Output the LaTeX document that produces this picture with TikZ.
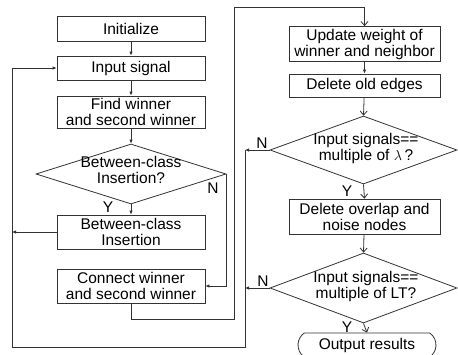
\documentclass[tikz,border=0pt]{standalone}
\usepackage{fontspec}
\setmainfont{Liberation Sans}
\usetikzlibrary{shapes.geometric,shapes.misc,arrows.meta}

\tikzset{
  x=1pt, y=-1pt,
  line/.style={draw=black!80, line width=0.8pt},
  box/.style={line, rectangle, inner sep=0pt, align=center,
              font=\fontsize{15.5}{16}\selectfont},
  dia/.style={line, diamond, inner sep=0pt},
  dtext/.style={align=center, inner sep=0pt, font=\fontsize{15.5}{16}\selectfont},
  tag/.style={inner sep=0pt, font=\fontsize{15.5}{16}\selectfont},
  fa/.style={line, -{Latex[length=4pt,width=3.5pt]}},
  oa/.style={line, -{Straight Barb[length=4pt,width=7pt]}},
}

\begin{document}
\begin{tikzpicture}
\clip (0,0) rectangle (458,354);
\fill[white] (0,0) rectangle (458,354);

% left column
\node[box, minimum width=148, minimum height=25] (init)  at (131,28.5) {Initialize};
\node[box, minimum width=148, minimum height=24] (input) at (131,68) {Input signal};
\node[box, minimum width=148, minimum height=32] (find)  at (131,112) {Find winner\\and second winner};
\node[dia, minimum width=190, minimum height=60] (d1) at (131,174) {};
\node[dtext] (d1t) at (131,170) {Between-class\\Insertion?};
\node[box, minimum width=148, minimum height=34] (bci)  at (131,232) {Between-class\\Insertion};
\node[box, minimum width=148, minimum height=34] (conn) at (131,286) {Connect winner\\and second winner};

% right column
\node[box, minimum width=151, minimum height=35] (upd)   at (364.5,44) {Update weight of\\winner and neighbor};
\node[box, minimum width=151, minimum height=23] (delo)  at (364.5,85.5) {Delete old edges};
\node[dia, minimum width=187, minimum height=68] (d2) at (363.5,150) {};
\node[dtext] (d2t) at (366,148) {Input signals==\\multiple of $\lambda$\,?};
\node[box, minimum width=151, minimum height=35] (delov) at (364.5,216.5) {Delete overlap and\\noise nodes};
\node[dia, minimum width=187, minimum height=70] (d3) at (363.5,288) {};
\node[dtext] (d3t) at (366,286) {Input signals==\\multiple of LT?};
\node[box, rounded rectangle, rounded rectangle arc length=110,
      minimum width=138, minimum height=24] (out) at (367,345) {Output results};

% branch labels
\node[tag] (y1) at (108,207) {Y};
\node[tag] (n1t) at (213,188) {N};
\node[tag] (n2t) at (262,143) {N};
\node[tag] (y2) at (347,191) {Y};
\node[tag] (n3t) at (263,281) {N};
\node[tag] (y3) at (347,327) {Y};

% loop corner points
\coordinate (bciL) at (12,232);
\coordinate (jn1) at (245,150);
\coordinate (jn2) at (245,288);
\coordinate (lowR) at (245,347);
\coordinate (lowL) at (12,347);
\coordinate (midB) at (234,319);
\coordinate (midT) at (234,7);

% left column flow
\draw[fa] (init) -- (input);
\draw[fa] (input) -- (find);
\draw[fa] (find) -- (d1);
\draw[fa] (d1.south) -- (bci.north);
\draw[fa] (d1.east) |- (conn.east);
\draw[fa] (bci.west) -- (bciL);

% back to input
\draw[fa] (d2.west) -- (jn1);
\draw[fa] (d3.west) -- (jn2);
\draw[fa] (jn1) -- (lowR) -- (lowL) |- (input.west);

% over to the right column
\draw[oa] (conn.south) |- (midB) -- (midT) -| (upd.north);

% right column flow
\draw[fa] (upd) -- (delo);
\draw[oa] (delo) -- (d2.north);
\draw[oa] (d2.south) -- (delov.north);
\draw[oa] (delov) -- (d3.north);
\draw[oa] (d3.south) -- (out.north);
\end{tikzpicture}
\end{document}
